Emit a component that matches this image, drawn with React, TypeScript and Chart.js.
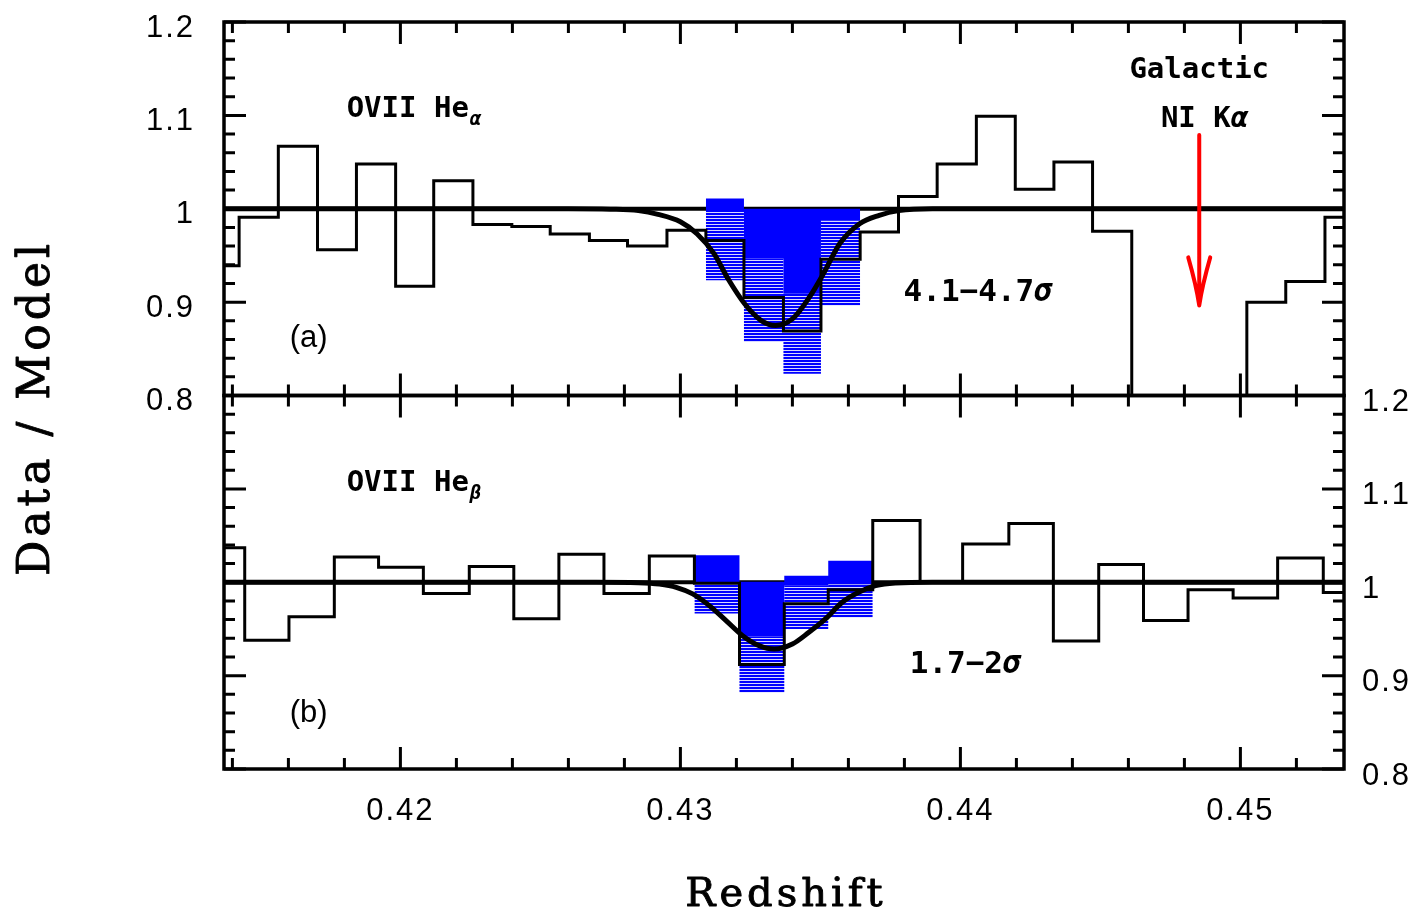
import React, { useEffect, useRef } from 'react';
import { Chart, registerables } from 'chart.js';

Chart.register(...registerables);

// ---------- Panel (a): O VII He-alpha ----------
const topEdges = [0.41285, 0.41424, 0.41564, 0.41704, 0.41843, 0.41983, 0.42119, 0.42259, 0.42398, 0.42535, 0.42675, 0.42811, 0.42952, 0.43091, 0.43227, 0.43368, 0.43502, 0.43642, 0.43779, 0.43917, 0.44057, 0.44196, 0.44334, 0.44472, 0.44612, 0.44749, 0.44886, 0.45023, 0.45162, 0.45302, 0.4544];
const topRatio = [0.939, 0.991, 1.067, 0.956, 1.048, 0.917, 1.03, 0.983, 0.981, 0.973, 0.966, 0.96, 0.977, 0.966, 0.905, 0.869, 0.946, 0.975, 1.013, 1.048, 1.099, 1.021, 1.05, 0.976, 0.72, 0.7, 0.74, 0.9, 0.922, 0.991];
const topModelZ = [0.4137, 0.426, 0.4275, 0.4285, 0.4292, 0.43, 0.4306, 0.4312, 0.4317, 0.4323, 0.4329, 0.4334, 0.434, 0.4346, 0.4351, 0.4357, 0.4364, 0.4371, 0.4378, 0.439, 0.4537];
const topModel = [1.0, 1.0, 0.9995, 0.998, 0.994, 0.986, 0.973, 0.952, 0.925, 0.898, 0.88, 0.875, 0.882, 0.905, 0.93, 0.963, 0.984, 0.993, 0.998, 1.0, 1.0];
const topBoxEdges = [0.43091, 0.43227, 0.43368, 0.43502, 0.43642];
const topSolidHi = [1.011, 1.0, 1.0, 1.0];
const topSolidLo = [0.9966, 0.9466, 0.9091, 0.9877];
const topHatchLo = [0.9233, 0.8572, 0.8233, 0.8965];

// ---------- Panel (b): O VII He-beta ----------
const botEdges = [0.41284, 0.41444, 0.41602, 0.41764, 0.41922, 0.42082, 0.42246, 0.42405, 0.42566, 0.42727, 0.42889, 0.4305, 0.43211, 0.43371, 0.43528, 0.43687, 0.43856, 0.44008, 0.44173, 0.44332, 0.44494, 0.44654, 0.44813, 0.44974, 0.45133, 0.45296, 0.45456];
const botRatio = [1.037, 0.938, 0.963, 1.027, 1.016, 0.988, 1.017, 0.961, 1.03, 0.988, 1.028, 0.999, 0.912, 0.977, 0.992, 1.066, 1.0, 1.041, 1.063, 0.937, 1.019, 0.959, 0.992, 0.983, 1.026, 0.989];
const botModelZ = [0.4137, 0.427, 0.4285, 0.42925, 0.42985, 0.43044, 0.43103, 0.43163, 0.43222, 0.43281, 0.43335, 0.434, 0.43459, 0.43518, 0.43578, 0.43637, 0.43697, 0.43767, 0.439, 0.4537];
const botModel = [1.0, 1.0, 0.9995, 0.998, 0.9946, 0.9875, 0.975, 0.9589, 0.9428, 0.9321, 0.9285, 0.9338, 0.9464, 0.9607, 0.9786, 0.9893, 0.9964, 0.9993, 1.0, 1.0];
const botBoxEdges = [0.4305, 0.43211, 0.43371, 0.43528, 0.43687];
const botSolidHi = [1.029, 1.0005, 1.007, 1.023];
const botSolidLo = [0.9998, 0.942, 0.9963, 0.9979];
const botHatchLo = [0.9665, 0.8818, 0.95, 0.9622];

// ---------- axes ----------
const zMin = 0.4137;
const zMax = 0.4537;
const ratioMin = 0.8;
const ratioMax = 1.2;
const unityLevel = 1;
const xTickValues = [0.42, 0.43, 0.44, 0.45];
const xTickLabels = ['0.42', '0.43', '0.44', '0.45'];
const yTickValues = [0.8, 0.9, 1.0, 1.1, 1.2];
const yTickLabels = ['0.8', '0.9', '1', '1.1', '1.2'];

// ---------- annotations ----------
const arrowRedshift = 0.44853;
const arrowFrom = 1.079;
const arrowTo = 0.8965;

const BLUE = '#0000ff';
const MONO = '"DejaVu Sans Mono"';
const SANS = '"Liberation Sans"';

function stepPoints(edges: number[], vals: number[]) {
  const pts = vals.map((v, i) => ({ x: edges[i], y: v }));
  pts.push({ x: edges[vals.length], y: vals[vals.length - 1] });
  return pts;
}

function curvePoints(xs: number[], ys: number[]) {
  return xs.map((x, i) => ({ x, y: ys[i] }));
}

type Run = { text: string; font: string; dy?: number; dx?: number };

function drawRuns(ctx: CanvasRenderingContext2D, runs: Run[], x: number, y: number, align: 'left' | 'center') {
  ctx.textAlign = 'left';
  let total = 0;
  const widths = runs.map((r) => {
    ctx.font = r.font;
    const w = ctx.measureText(r.text).width + (r.dx || 0);
    total += w;
    return w;
  });
  let cx = align === 'center' ? x - total / 2 : x;
  runs.forEach((r, i) => {
    ctx.font = r.font;
    ctx.fillText(r.text, cx + (r.dx || 0), y + (r.dy || 0));
    cx += widths[i];
  });
}

const framePlugin = {
  id: 'panelFrames',
  beforeDatasetsDraw(chart: any) {
    const { ctx } = chart;
    const xs = chart.scales.x;
    ctx.save();
    ctx.strokeStyle = '#000';
    ctx.lineWidth = 4;
    for (const id of ['yTop', 'yBot']) {
      const ys = chart.scales[id];
      const y = ys.getPixelForValue(unityLevel);
      ctx.beginPath();
      ctx.moveTo(xs.left, y);
      ctx.lineTo(xs.right, y);
      ctx.stroke();
    }
    ctx.restore();
  },
  afterDatasetsDraw(chart: any) {
    const { ctx } = chart;
    const xs = chart.scales.x;
    const yTop = chart.scales.yTop;
    const yBot = chart.scales.yBot;
    ctx.save();
    ctx.strokeStyle = '#000';
    ctx.fillStyle = '#000';
    ctx.lineCap = 'butt';

    const major = 22;
    const minor = 11;
    for (const ys of [yTop, yBot]) {
      ctx.lineWidth = 3;
      ctx.beginPath();
      for (let k = 0; k <= 22; k++) {
        const v = Math.round((0.412 + 0.002 * k) * 1000) / 1000;
        if (v < zMin || v > zMax) continue;
        const isMajor = Math.abs(v * 100 - Math.round(v * 100)) < 1e-6;
        const len = isMajor ? major : minor;
        const px = xs.getPixelForValue(v);
        ctx.moveTo(px, ys.top);
        ctx.lineTo(px, ys.top + len);
        ctx.moveTo(px, ys.bottom);
        ctx.lineTo(px, ys.bottom - len);
      }
      for (let k = 0; k <= 20; k++) {
        const v = ratioMin + 0.02 * k;
        const len = k % 5 === 0 ? major : minor;
        const py = ys.getPixelForValue(v);
        ctx.moveTo(xs.left, py);
        ctx.lineTo(xs.left + len, py);
        ctx.moveTo(xs.right, py);
        ctx.lineTo(xs.right - len, py);
      }
      ctx.stroke();
      ctx.lineWidth = 3.5;
      ctx.strokeRect(xs.left, ys.top, xs.right - xs.left, ys.bottom - ys.top);
    }

    // tick labels
    ctx.font = `31px ${SANS}`;
    (ctx as any).letterSpacing = '2px';
    ctx.textBaseline = 'middle';
    ctx.textAlign = 'right';
    yTickValues.forEach((v, i) => {
      ctx.fillText(yTickLabels[i], xs.left - 29, yTop.getPixelForValue(v) + 6);
    });
    ctx.textAlign = 'left';
    yTickValues.forEach((v, i) => {
      ctx.fillText(yTickLabels[i], xs.right + 18, yBot.getPixelForValue(v) + 7);
    });
    ctx.textAlign = 'center';
    xTickValues.forEach((v, i) => {
      ctx.fillText(xTickLabels[i], xs.getPixelForValue(v), yBot.bottom + 42);
    });

    // axis titles (slightly emboldened serif)
    ctx.textBaseline = 'alphabetic';
    ctx.font = `40px "DejaVu Serif"`;
    (ctx as any).letterSpacing = '4px';
    ctx.textAlign = 'center';
    ctx.lineWidth = 0.9;
    ctx.lineJoin = 'round';
    const rx = (xs.left + xs.right) / 2 + 2;
    ctx.fillText('Redshift', rx, 906);
    ctx.strokeText('Redshift', rx, 906);
    ctx.save();
    ctx.translate(38, 408);
    ctx.rotate(-Math.PI / 2);
    ctx.font = '44px "DejaVu Serif"';
    (ctx as any).letterSpacing = '4px';
    ctx.textBaseline = 'middle';
    ctx.fillText('Data / Model', 0, 0);
    ctx.strokeText('Data / Model', 0, 0);
    ctx.restore();
    (ctx as any).letterSpacing = '0px';

    // panel annotations
    ctx.textBaseline = 'alphabetic';
    const bold = `bold 29px ${MONO}`;
    const sub = `bold italic 19px ${MONO}`;
    drawRuns(ctx, [{ text: 'OVII He', font: bold }, { text: 'α', font: sub, dy: 8, dx: 1 }], xs.getPixelForValue(0.41808), yTop.getPixelForValue(1.098), 'left');
    drawRuns(ctx, [{ text: 'OVII He', font: bold }, { text: 'β', font: sub, dy: 8, dx: 1 }], xs.getPixelForValue(0.41808), yBot.getPixelForValue(1.098), 'left');

    ctx.font = `31px ${SANS}`;
    ctx.textAlign = 'left';
    ctx.textBaseline = 'middle';
    ctx.fillText('(a)', xs.getPixelForValue(0.41605), yTop.getPixelForValue(0.861));
    ctx.fillText('(b)', xs.getPixelForValue(0.41605), yBot.getPixelForValue(0.86));

    const sig = `bold 31px ${MONO}`;
    const sigI = `bold italic 31px ${MONO}`;
    drawRuns(ctx, [{ text: '4.1−4.7', font: sig }, { text: 'σ', font: sigI }], xs.getPixelForValue(0.43797), yTop.getPixelForValue(0.9094), 'left');
    drawRuns(ctx, [{ text: '1.7−2', font: sig }, { text: 'σ', font: sigI }], xs.getPixelForValue(0.43819), yBot.getPixelForValue(0.9115), 'left');

    ctx.textBaseline = 'alphabetic';
    drawRuns(ctx, [{ text: 'Galactic', font: `bold 29px ${MONO}` }], xs.getPixelForValue(0.44853), yTop.getPixelForValue(1.1396), 'center');
    drawRuns(ctx, [{ text: 'NI K', font: `bold 29px ${MONO}` }, { text: 'α', font: `bold italic 29px ${MONO}` }], xs.getPixelForValue(0.44872), yTop.getPixelForValue(1.0877), 'center');

    // red arrow
    const ax = xs.getPixelForValue(arrowRedshift);
    const ay0 = yTop.getPixelForValue(arrowFrom);
    const ay1 = yTop.getPixelForValue(arrowTo);
    ctx.strokeStyle = '#ff0000';
    ctx.lineWidth = 4;
    ctx.lineCap = 'round';
    ctx.lineJoin = 'round';
    ctx.beginPath();
    ctx.moveTo(ax, ay0);
    ctx.lineTo(ax, ay1);
    ctx.moveTo(ax - 11, ay1 - 48);
    ctx.quadraticCurveTo(ax - 3, ay1 - 20, ax, ay1);
    ctx.quadraticCurveTo(ax + 3, ay1 - 20, ax + 11, ay1 - 48);
    ctx.stroke();
    ctx.restore();
  },
};

export default function App() {
  const ref = useRef<HTMLCanvasElement>(null);
  useEffect(() => {
    const canvas = ref.current;
    if (!canvas) return;
    const pc = document.createElement('canvas');
    pc.width = 4;
    pc.height = 3;
    const pctx = pc.getContext('2d')!;
    pctx.fillStyle = BLUE;
    pctx.fillRect(0, 0, 4, 2);
    pctx.fillStyle = '#d8d8ff';
    pctx.fillRect(0, 2, 4, 1);
    const hatch = canvas.getContext('2d')!.createPattern(pc, 'repeat')!;

    const common = { pointRadius: 0, pointHoverRadius: 0, fill: false };
    const boxBase = { ...common, stepped: true, borderWidth: 0, borderColor: 'rgba(0,0,0,0)', order: 3 };

    const chart = new Chart(canvas, {
      type: 'line',
      data: {
        datasets: [
          { ...boxBase, data: stepPoints(topBoxEdges, topSolidHi), yAxisID: 'yTop', fill: '+1', backgroundColor: BLUE },
          { ...boxBase, data: stepPoints(topBoxEdges, topSolidLo), yAxisID: 'yTop', fill: '+1', backgroundColor: hatch },
          { ...boxBase, data: stepPoints(topBoxEdges, topHatchLo), yAxisID: 'yTop' },
          { ...boxBase, data: stepPoints(botBoxEdges, botSolidHi), yAxisID: 'yBot', fill: '+1', backgroundColor: BLUE },
          { ...boxBase, data: stepPoints(botBoxEdges, botSolidLo), yAxisID: 'yBot', fill: '+1', backgroundColor: hatch },
          { ...boxBase, data: stepPoints(botBoxEdges, botHatchLo), yAxisID: 'yBot' },
          { ...common, data: stepPoints(topEdges, topRatio), yAxisID: 'yTop', stepped: true, borderColor: '#000', borderWidth: 3, order: 2 },
          { ...common, data: stepPoints(botEdges, botRatio), yAxisID: 'yBot', stepped: true, borderColor: '#000', borderWidth: 3, order: 2 },
          { ...common, data: curvePoints(topModelZ, topModel), yAxisID: 'yTop', cubicInterpolationMode: 'monotone', borderColor: '#000', borderWidth: 5, order: 1 },
          { ...common, data: curvePoints(botModelZ, botModel), yAxisID: 'yBot', cubicInterpolationMode: 'monotone', borderColor: '#000', borderWidth: 5, order: 1 },
        ] as any,
      },
      options: {
        animation: false,
        responsive: false,
        devicePixelRatio: 1,
        events: [],
        layout: { padding: { left: 224, top: 22, right: 75, bottom: 144 } },
        plugins: { legend: { display: false }, tooltip: { enabled: false } },
        scales: {
          x: { type: 'linear', min: zMin, max: zMax, display: false },
          yBot: { type: 'linear', min: ratioMin, max: ratioMax, display: false, position: 'left', stack: 'panels', stackWeight: 1 },
          yTop: { type: 'linear', min: ratioMin, max: ratioMax, display: false, position: 'left', stack: 'panels', stackWeight: 1 },
        },
      } as any,
      plugins: [framePlugin],
    });
    return () => chart.destroy();
  }, []);
  return (
    <div style={{ position: 'fixed', left: 0, top: 0, width: 1419, height: 913, background: '#fff' }}>
      <canvas ref={ref} width={1419} height={913} style={{ display: 'block', width: 1419, height: 913 }} />
    </div>
  );
}
